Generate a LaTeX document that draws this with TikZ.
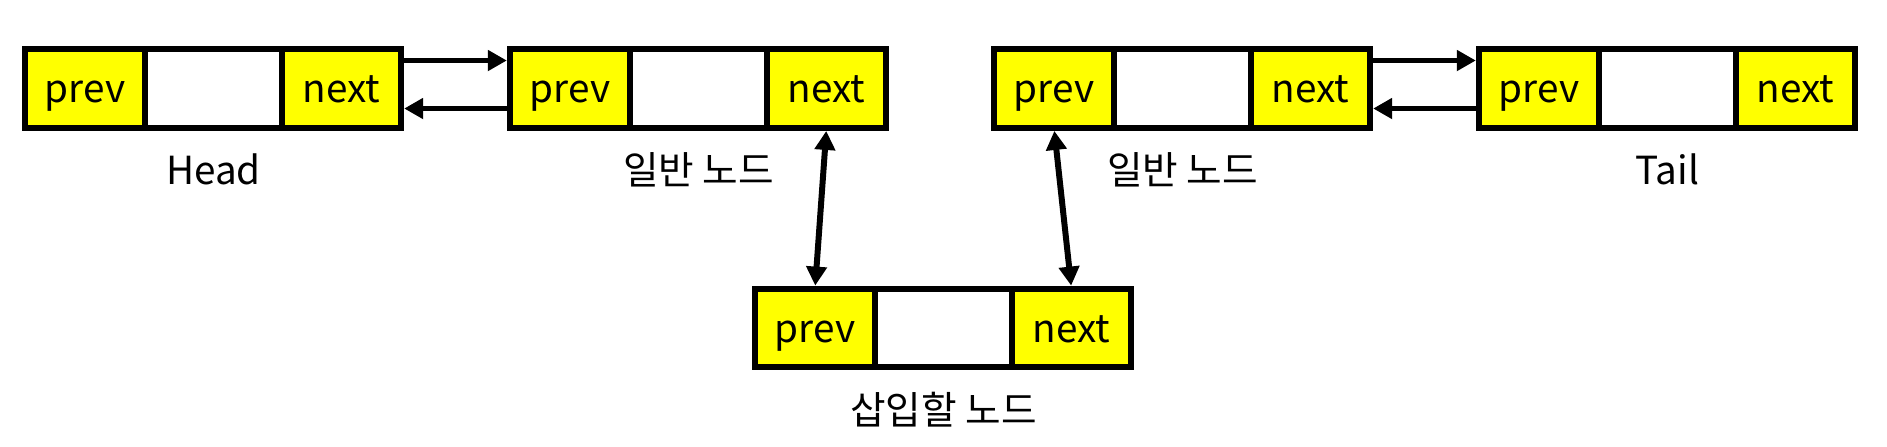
\documentclass[tikz,border=0pt]{standalone}
\usepackage{fontspec}
\setmainfont{Noto Sans CJK KR}
\usetikzlibrary{positioning, arrows.meta}
\definecolor{cellyellow}{RGB}{255,255,0}

\tikzset{
  cell/.style={draw, line width=1.8pt, minimum height=0.785cm, inner sep=0pt,
    outer sep=0pt, text height=0.9em, text depth=0.1em,
    font=\fontsize{11}{13}\selectfont},
  prevcell/.style={cell, fill=cellyellow, minimum width=1.20cm},
  datacell/.style={cell, fill=white, minimum width=1.37cm},
  nextcell/.style={cell, fill=cellyellow, minimum width=1.19cm},
  caption/.style={inner sep=0pt, font=\fontsize{11}{13}\selectfont},
  link/.style={line width=1.7pt, shorten <=0.9pt, shorten >=0.9pt,
    -{Triangle[length=0.19cm, width=0.2cm]}},
  twoway/.style={line width=1.7pt, shorten <=0.9pt, shorten >=0.9pt,
    {Triangle[length=0.19cm, width=0.2cm]}-{Triangle[length=0.19cm, width=0.2cm]}}
}

\begin{document}
\begin{tikzpicture}
  \useasboundingbox (0,0) rectangle (18.87,4.46);

  % Head
  \node[prevcell, anchor=west] (h-prev) at (0.25,3.575) {prev};
  \node[datacell, right=0pt of h-prev] (h-data) {};
  \node[nextcell, right=0pt of h-data] (h-next) {next};
  \node[caption, below=0.57cm of h-data.south, anchor=base] (h-cap) {Head};

  % first ordinary node
  \node[prevcell, anchor=west] (a-prev) at (5.10,3.575) {prev};
  \node[datacell, right=0pt of a-prev] (a-data) {};
  \node[nextcell, right=0pt of a-data] (a-next) {next};
  \node[caption, below=0.57cm of a-data.south, anchor=base] (a-cap) {일반 노드};

  % second ordinary node
  \node[prevcell, anchor=west] (b-prev) at (9.94,3.575) {prev};
  \node[datacell, right=0pt of b-prev] (b-data) {};
  \node[nextcell, right=0pt of b-data] (b-next) {next};
  \node[caption, below=0.57cm of b-data.south, anchor=base] (b-cap) {일반 노드};

  % Tail
  \node[prevcell, anchor=west] (t-prev) at (14.79,3.575) {prev};
  \node[datacell, right=0pt of t-prev] (t-data) {};
  \node[nextcell, right=0pt of t-data] (t-next) {next};
  \node[caption, below=0.57cm of t-data.south, anchor=base] (t-cap) {Tail};

  % node to insert
  \node[prevcell, anchor=west] (i-prev) at (7.55,1.18) {prev};
  \node[datacell, right=0pt of i-prev] (i-data) {};
  \node[nextcell, right=0pt of i-data] (i-next) {next};
  \node[caption, below=0.57cm of i-data.south, anchor=base] (i-cap) {삽입할 노드};

  % links between neighbours
  \draw[link] ([yshift=0.28cm]h-next.east) -- ([yshift=0.28cm]a-prev.west);
  \draw[link] ([yshift=-0.2cm]a-prev.west) -- ([yshift=-0.2cm]h-next.east);
  \draw[link] ([yshift=0.28cm]b-next.east) -- ([yshift=0.28cm]t-prev.west);
  \draw[link] ([yshift=-0.2cm]t-prev.west) -- ([yshift=-0.2cm]b-next.east);

  % links to the new node
  \draw[twoway] (a-next.south) -- (i-prev.north);
  \draw[twoway] (b-prev.south) -- (i-next.north);
\end{tikzpicture}
\end{document}
